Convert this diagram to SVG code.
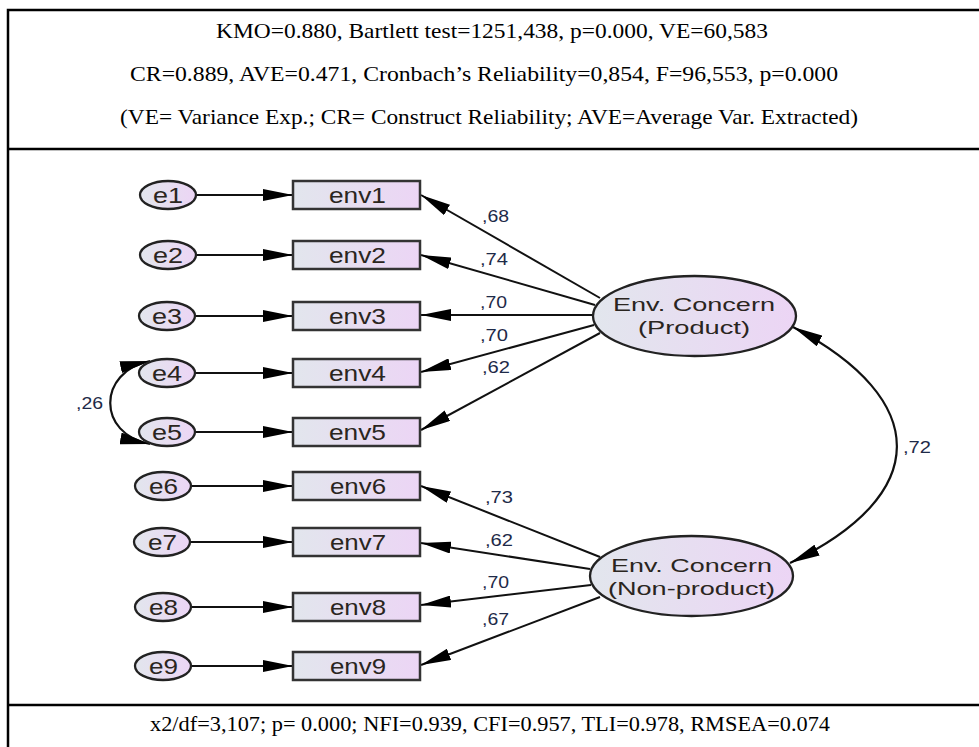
<svg xmlns="http://www.w3.org/2000/svg" width="979" height="747" viewBox="0 0 979 747">
<style>
.hdr{font-family:"Liberation Serif","Times New Roman",serif;font-size:22px;fill:#000}
.lbl{font-family:"Liberation Sans",Arial,sans-serif;font-size:22px;fill:#2a2520}
.lat{font-family:"Liberation Sans",Arial,sans-serif;font-size:19px;fill:#2a2520}
.coef{font-family:"Liberation Sans",Arial,sans-serif;font-size:16px;fill:#1e2a48}
.box{fill:url(#g);stroke:#333;stroke-width:2.5}
.ell{fill:url(#g);stroke:#222;stroke-width:2.3}
.ln{stroke:#111;stroke-width:2;fill:none;marker-end:url(#ah)}
.cv{stroke:#111;stroke-width:2.2;fill:none;marker-end:url(#ah);marker-start:url(#ahs)}
.tb{stroke:#000;stroke-width:2.5;fill:none}
</style>
<defs>
<linearGradient id="g" x1="0" y1="0" x2="1" y2="0">
<stop offset="0" stop-color="#e2e6ed"/>
<stop offset="1" stop-color="#ecd5f5"/>
</linearGradient>
<marker id="ah" markerUnits="userSpaceOnUse" markerWidth="30" markerHeight="12" refX="30" refY="6" orient="auto" viewBox="0 0 30 12">
<path d="M0,0 L30,6 L0,12 Z" fill="#000"/>
</marker>
<marker id="ahs" markerUnits="userSpaceOnUse" markerWidth="30" markerHeight="12" refX="30" refY="6" orient="auto-start-reverse" viewBox="0 0 30 12">
<path d="M0,0 L30,6 L0,12 Z" fill="#000"/>
</marker>
</defs>

<g id="table">
<path class="tb" d="M8,747 L8,10 L979,10"/>
<path class="tb" d="M8,149 L979,149"/>
<path class="tb" d="M8,705 L979,705"/>
<text class="hdr" x="216" y="38" textLength="552" lengthAdjust="spacingAndGlyphs">KMO=0.880, Bartlett test=1251,438, p=0.000, VE=60,583</text>
<text class="hdr" x="130" y="81" textLength="708" lengthAdjust="spacingAndGlyphs">CR=0.889, AVE=0.471, Cronbach’s Reliability=0,854, F=96,553, p=0.000</text>
<text class="hdr" x="120" y="124" textLength="738" lengthAdjust="spacingAndGlyphs">(VE= Variance Exp.; CR= Construct Reliability; AVE=Average Var. Extracted)</text>
<text class="hdr" x="150" y="731" textLength="680" lengthAdjust="spacingAndGlyphs">x2/df=3,107; p= 0.000; NFI=0.939, CFI=0.957, TLI=0.978, RMSEA=0.074</text>
</g>

<g id="connectors">
<line class="ln" x1="196" y1="195" x2="293" y2="195"/>
<line class="ln" x1="196" y1="255" x2="293" y2="255"/>
<line class="ln" x1="195" y1="316" x2="293" y2="316"/>
<line class="ln" x1="195" y1="373" x2="293" y2="373"/>
<line class="ln" x1="195" y1="432" x2="293" y2="432"/>
<line class="ln" x1="191" y1="486" x2="293" y2="486"/>
<line class="ln" x1="191" y1="542" x2="293" y2="542"/>
<line class="ln" x1="191" y1="607" x2="293" y2="607"/>
<line class="ln" x1="191" y1="666" x2="293" y2="666"/>

<line class="ln" x1="600" y1="298" x2="421" y2="195"/>
<line class="ln" x1="595" y1="305" x2="421" y2="255"/>
<line class="ln" x1="593" y1="315" x2="421" y2="315"/>
<line class="ln" x1="594" y1="325" x2="421" y2="372"/>
<line class="ln" x1="600" y1="333" x2="421" y2="430"/>

<line class="ln" x1="600" y1="557" x2="421" y2="486"/>
<line class="ln" x1="590" y1="569" x2="421" y2="543"/>
<line class="ln" x1="591" y1="585" x2="421" y2="605"/>
<line class="ln" x1="600" y1="597" x2="421" y2="665"/>

<path class="cv" d="M150,361 C97,372 97,434 150,444"/>
<path class="cv" d="M793,327 C932,400 932,495 790,563"/>

<text class="coef" x="482" y="222" textLength="27" lengthAdjust="spacingAndGlyphs">,68</text>
<text class="coef" x="480" y="265" textLength="28" lengthAdjust="spacingAndGlyphs">,74</text>
<text class="coef" x="480" y="308" textLength="27" lengthAdjust="spacingAndGlyphs">,70</text>
<text class="coef" x="480" y="341" textLength="28" lengthAdjust="spacingAndGlyphs">,70</text>
<text class="coef" x="482" y="373" textLength="28" lengthAdjust="spacingAndGlyphs">,62</text>
<text class="coef" x="485" y="503" textLength="28" lengthAdjust="spacingAndGlyphs">,73</text>
<text class="coef" x="485" y="546" textLength="28" lengthAdjust="spacingAndGlyphs">,62</text>
<text class="coef" x="482" y="588" textLength="27" lengthAdjust="spacingAndGlyphs">,70</text>
<text class="coef" x="482" y="625" textLength="27" lengthAdjust="spacingAndGlyphs">,67</text>
<text class="coef" x="76" y="409" textLength="27" lengthAdjust="spacingAndGlyphs">,26</text>
<text class="coef" x="903" y="453" textLength="28" lengthAdjust="spacingAndGlyphs">,72</text>
</g>

<g id="e1"><ellipse class="ell" cx="168" cy="195" rx="28" ry="14"/><text class="lbl" x="153" y="202.5" textLength="30" lengthAdjust="spacingAndGlyphs">e1</text></g>
<g id="e2"><ellipse class="ell" cx="168" cy="255" rx="28" ry="14"/><text class="lbl" x="153" y="262.5" textLength="30" lengthAdjust="spacingAndGlyphs">e2</text></g>
<g id="e3"><ellipse class="ell" cx="167" cy="316" rx="28" ry="14"/><text class="lbl" x="152" y="323.5" textLength="30" lengthAdjust="spacingAndGlyphs">e3</text></g>
<g id="e4"><ellipse class="ell" cx="167" cy="373" rx="28" ry="14"/><text class="lbl" x="152" y="380.5" textLength="30" lengthAdjust="spacingAndGlyphs">e4</text></g>
<g id="e5"><ellipse class="ell" cx="167" cy="432" rx="28" ry="14"/><text class="lbl" x="152" y="439.5" textLength="30" lengthAdjust="spacingAndGlyphs">e5</text></g>
<g id="e6"><ellipse class="ell" cx="163" cy="486" rx="28" ry="14"/><text class="lbl" x="149" y="493.5" textLength="29" lengthAdjust="spacingAndGlyphs">e6</text></g>
<g id="e7"><ellipse class="ell" cx="162" cy="542" rx="28" ry="14"/><text class="lbl" x="148" y="549.5" textLength="29" lengthAdjust="spacingAndGlyphs">e7</text></g>
<g id="e8"><ellipse class="ell" cx="163" cy="607" rx="28" ry="14"/><text class="lbl" x="149" y="614.5" textLength="29" lengthAdjust="spacingAndGlyphs">e8</text></g>
<g id="e9"><ellipse class="ell" cx="163" cy="666" rx="28" ry="14"/><text class="lbl" x="149" y="673.5" textLength="29" lengthAdjust="spacingAndGlyphs">e9</text></g>

<g id="env1"><rect class="box" x="293" y="181" width="127" height="28"/><text class="lbl" x="329" y="202.5" textLength="57" lengthAdjust="spacingAndGlyphs">env1</text></g>
<g id="env2"><rect class="box" x="293" y="241" width="127" height="28"/><text class="lbl" x="329" y="262.5" textLength="57" lengthAdjust="spacingAndGlyphs">env2</text></g>
<g id="env3"><rect class="box" x="293" y="302" width="127" height="28"/><text class="lbl" x="329" y="323.5" textLength="57" lengthAdjust="spacingAndGlyphs">env3</text></g>
<g id="env4"><rect class="box" x="293" y="359" width="127" height="28"/><text class="lbl" x="329" y="380.5" textLength="57" lengthAdjust="spacingAndGlyphs">env4</text></g>
<g id="env5"><rect class="box" x="293" y="418" width="127" height="28"/><text class="lbl" x="329" y="439.5" textLength="57" lengthAdjust="spacingAndGlyphs">env5</text></g>
<g id="env6"><rect class="box" x="293" y="472" width="127" height="28"/><text class="lbl" x="330" y="493.5" textLength="56" lengthAdjust="spacingAndGlyphs">env6</text></g>
<g id="env7"><rect class="box" x="293" y="528" width="127" height="28"/><text class="lbl" x="330" y="549.5" textLength="56" lengthAdjust="spacingAndGlyphs">env7</text></g>
<g id="env8"><rect class="box" x="293" y="593" width="127" height="28"/><text class="lbl" x="330" y="614.5" textLength="56" lengthAdjust="spacingAndGlyphs">env8</text></g>
<g id="env9"><rect class="box" x="293" y="652" width="127" height="28"/><text class="lbl" x="330" y="673.5" textLength="56" lengthAdjust="spacingAndGlyphs">env9</text></g>

<g id="product"><ellipse class="ell" cx="694.5" cy="316" rx="101.5" ry="40"/>
<text class="lat" x="613" y="311" textLength="162" lengthAdjust="spacingAndGlyphs">Env. Concern</text>
<text class="lat" x="638" y="334" textLength="112" lengthAdjust="spacingAndGlyphs">(Product)</text></g>
<g id="nonproduct"><ellipse class="ell" cx="691.5" cy="576" rx="101.5" ry="40"/>
<text class="lat" x="611" y="572" textLength="161" lengthAdjust="spacingAndGlyphs">Env. Concern</text>
<text class="lat" x="608" y="595" textLength="167" lengthAdjust="spacingAndGlyphs">(Non-product)</text></g>
</svg>
